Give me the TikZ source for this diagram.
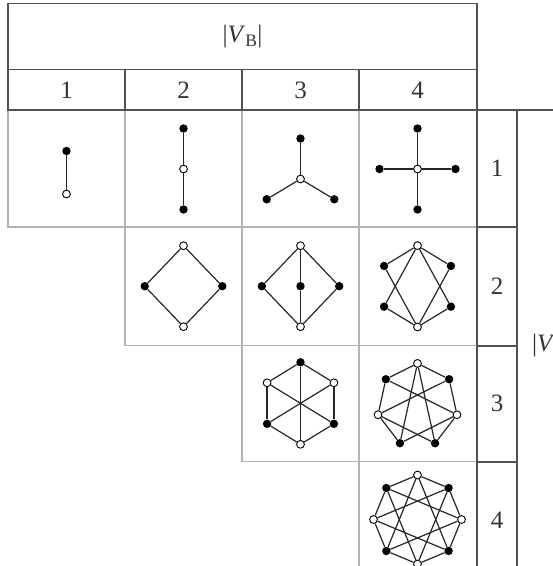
\documentclass[tikz,border=0pt]{standalone}
\usepackage{fontspec}
\setmainfont{Liberation Serif}
\begin{document}
\begin{tikzpicture}[x=1pt,y=-1pt,
  bv/.style={circle,fill=black,inner sep=0pt,minimum size=8.4pt},
  wv/.style={circle,draw=black,fill=white,line width=0.9pt,inner sep=0pt,minimum size=7.8pt},
  gedge/.style={line width=1.2pt,black!85},
  darkline/.style={line width=1.7pt,draw=black!68},
  grayline/.style={line width=1.4pt,draw=black!30},
  lab/.style={font=\fontsize{25}{28}\selectfont,text=black!80,inner sep=0pt}]
\useasboundingbox (0,0) rectangle (553,566);
\clip (0,0) rectangle (553,566);
% ---- grid (light cells) ----
\draw[grayline] (8,110) -- (8,227) -- (477,227);
\draw[grayline] (125,110) -- (125,345.7) -- (477,345.7);
\draw[grayline] (242,110) -- (242,461.7) -- (477,461.7);
\draw[grayline] (359,110) -- (359,566);
% ---- grid (dark) ----
\draw[darkline] (8,3.5) rectangle (477,110);
\draw[darkline] (8,69.5) -- (477,69.5);
\foreach \x in {125,242,359} \draw[darkline] (\x,69.5) -- (\x,110);
\draw[darkline] (477,110) -- (553,110);
\draw[darkline] (477,110) -- (477,566);
\draw[darkline] (517,110) -- (517,566);
\foreach \y in {227,345.7,461.7} \draw[darkline] (477,\y) -- (517,\y);
% ---- labels ----
\node[lab] (hdrB) at (242.5,37) {|\textit{V}\textsubscript{B}|};
\node[lab] (col1) at (66.5,90) {1};
\node[lab] (col2) at (183.5,90) {2};
\node[lab] (col3) at (300.5,90) {3};
\node[lab] (col4) at (417.5,90) {4};
\node[lab] (row1) at (497,168.5) {1};
\node[lab] (row2) at (497,286) {2};
\node[lab] (row3) at (497,403.5) {3};
\node[lab] (row4) at (497,520) {4};
\node[lab,anchor=west] (hdrA) at (532,346) {|\textit{V}\textsubscript{A}|};
% ---- K11 ----
\node[bv] (k11-0) at (66.5,151) {};
\node[wv] (k11-1) at (66.5,194) {};
\draw[gedge] (k11-0) -- (k11-1);
% ---- K12 ----
\node[bv] (k12-0) at (183.5,128.5) {};
\node[wv] (k12-1) at (183.5,169) {};
\node[bv] (k12-2) at (183.5,209.5) {};
\draw[gedge] (k12-0) -- (k12-1) -- (k12-2);
% ---- K13 ----
\node[wv] (k13-c) at (300.5,179) {};
\node[bv] (k13-0) at (300.5,138.5) {};
\node[bv] (k13-1) at (266.7,199.3) {};
\node[bv] (k13-2) at (334.3,199.3) {};
\foreach \b in {0,1,2} \draw[gedge] (k13-c) -- (k13-\b);
% ---- K14 ----
\node[wv] (k14-c) at (417.5,169) {};
\node[bv] (k14-0) at (417.5,128.5) {};
\node[bv] (k14-1) at (455.5,169) {};
\node[bv] (k14-2) at (417.5,209.5) {};
\node[bv] (k14-3) at (379.5,169) {};
\foreach \b in {0,1,2,3} \draw[gedge] (k14-c) -- (k14-\b);
% ---- K22 ----
\node[wv] (k22-0) at (183.5,245.7) {};
\node[bv] (k22-1) at (222.3,286.2) {};
\node[wv] (k22-2) at (183.5,326.7) {};
\node[bv] (k22-3) at (144.7,286.2) {};
\foreach \w in {0,2} \foreach \b in {1,3} \draw[gedge] (k22-\w) -- (k22-\b);
% ---- K23 ----
\node[wv] (k23-t) at (300.5,245.7) {};
\node[wv] (k23-u) at (300.5,326.7) {};
\node[bv] (k23-0) at (261.8,286.2) {};
\node[bv] (k23-1) at (300.5,286.2) {};
\node[bv] (k23-2) at (339.2,286.2) {};
\foreach \w in {t,u} \foreach \b in {0,1,2} \draw[gedge] (k23-\w) -- (k23-\b);
% ---- K24 ----
\begin{scope}[shift={(417.5,286.3)}]
\foreach \i/\a/\t in {0/90/wv,1/30/bv,2/-30/bv,3/-90/wv,4/-150/bv,5/150/bv}
  \node[\t] (k24-\i) at ({38.6*cos(\a)},{-40.7*sin(\a)}) {};
\end{scope}
\foreach \w in {0,3} \foreach \b in {1,2,4,5} \draw[gedge] (k24-\w) -- (k24-\b);
% ---- K33 ----
\begin{scope}[shift={(300.5,403.3)}]
\foreach \i/\a/\t in {0/90/bv,1/30/wv,2/-30/bv,3/-90/wv,4/-150/bv,5/150/wv}
  \node[\t] (k33-\i) at ({38.6*cos(\a)},{-41*sin(\a)}) {};
\end{scope}
\foreach \u/\v in {0/1,1/2,2/3,3/4,4/5,5/0,0/3,1/4,2/5} \draw[gedge] (k33-\u) -- (k33-\v);
% ---- K34 ----
\begin{scope}[shift={(417.5,405.4)}]
\foreach \i/\t in {0/wv,1/bv,2/wv,3/bv,4/bv,5/wv,6/bv}
  \node[\t] (k34-\i) at ({40.5*cos(90-51.4286*\i)},{-42*sin(90-51.4286*\i)}) {};
\end{scope}
\foreach \w in {0,2,5} \foreach \b in {1,3,4,6} \draw[gedge] (k34-\w) -- (k34-\b);
% ---- K44 ----
\begin{scope}[shift={(417.5,519.5)}]
\foreach \i/\t in {0/wv,1/bv,2/wv,3/bv,4/wv,5/bv,6/wv,7/bv}
  \node[\t] (k44-\i) at ({44*cos(90-45*\i)},{-44.5*sin(90-45*\i)}) {};
\end{scope}
\foreach \w in {0,2,4,6} \foreach \b in {1,3,5,7} \draw[gedge] (k44-\w) -- (k44-\b);
\end{tikzpicture}
\end{document}
